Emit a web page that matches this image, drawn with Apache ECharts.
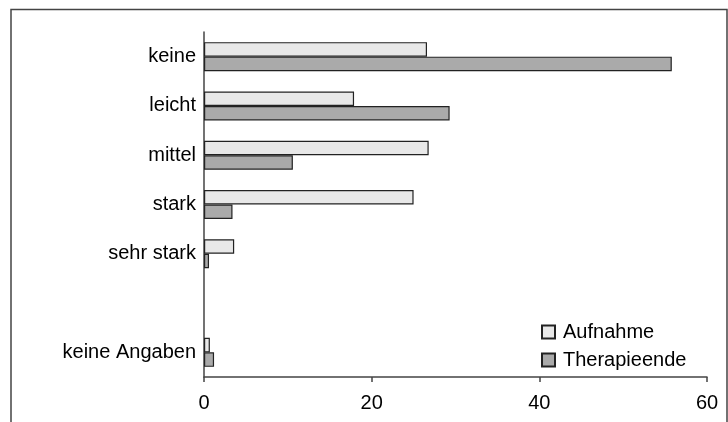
<!DOCTYPE html>
<html>
<head>
<meta charset="utf-8">
<script src="https://cdn.jsdelivr.net/npm/echarts@6/dist/echarts.min.js"></script>
<style>
html,body{margin:0;padding:0;background:#fff;}
#c{width:728px;height:422px;}
</style>
</head>
<body>
<div id="c"></div>
<script>
const categories = ['keine', 'leicht', 'mittel', 'stark', 'sehr stark', '', 'keine Angaben'];
const seriesNames = ['Aufnahme', 'Therapieende'];
const aufnahme = [26.6, 17.9, 26.8, 25.0, 3.6, null, 0.7];
const therapieende = [55.8, 29.3, 10.6, 3.4, 0.6, null, 1.2];
const xTicks = [0, 20, 40, 60];

const FONT = '"Liberation Sans", Arial, sans-serif';
const chart = echarts.init(document.getElementById('c'), null, {renderer: 'canvas'});
chart.setOption({
  animation: false,
  backgroundColor: '#fff',
  textStyle: {fontFamily: FONT},
  graphic: [{
    type: 'rect',
    shape: {x: 11, y: 9.5, width: 716, height: 500},
    style: {fill: 'none', stroke: '#444', lineWidth: 1.5},
    silent: true
  }],
  grid: {left: 204, right: 21, top: 32, bottom: 45, containLabel: false},
  legend: {
    data: seriesNames,
    orient: 'vertical',
    left: 536,
    top: 317,
    itemWidth: 13,
    itemHeight: 13,
    itemGap: 8,
    icon: 'rect',
    textStyle: {fontFamily: FONT, fontSize: 20, color: '#000', padding: [0, 0, 0, 3]}
  },
  xAxis: {
    type: 'value',
    min: xTicks[0],
    max: xTicks[xTicks.length - 1],
    interval: 20,
    splitLine: {show: false},
    axisLine: {show: true, lineStyle: {color: '#444', width: 1.5}},
    axisTick: {show: true, length: 5, lineStyle: {color: '#444', width: 1.5}},
    axisLabel: {fontFamily: FONT, fontSize: 20, color: '#000', margin: 16}
  },
  yAxis: {
    type: 'category',
    data: categories,
    inverse: true,
    axisLine: {show: true, lineStyle: {color: '#444', width: 1.5}},
    axisTick: {show: false},
    axisLabel: {fontFamily: FONT, fontSize: 20, color: '#000', margin: 8}
  },
  series: [
    {
      name: seriesNames[0], type: 'bar', data: aufnahme,
      barWidth: 14.5, barGap: '0%',
      itemStyle: {color: '#e8e8e8', borderColor: '#222', borderWidth: 1.2}
    },
    {
      name: seriesNames[1], type: 'bar', data: therapieende,
      barWidth: 14.5, barGap: '0%',
      itemStyle: {color: '#aaaaaa', borderColor: '#222', borderWidth: 1.2}
    }
  ]
});
</script>
</body>
</html>
